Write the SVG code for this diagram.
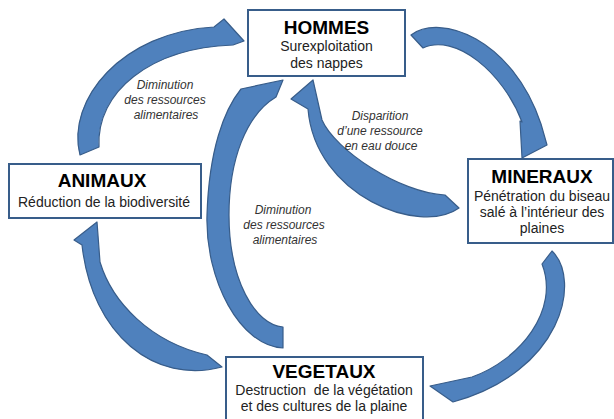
<svg xmlns="http://www.w3.org/2000/svg" width="614" height="419" viewBox="0 0 614 419">
<style>
.arrow{fill:#4F81BD;stroke:#385D8A;stroke-width:1.2;stroke-linejoin:round}
.box{fill:#FFFFFF;stroke:#385D8A;stroke-width:2}
.title{font-family:"Liberation Sans",Arial,sans-serif;font-weight:bold;font-size:19px;fill:#000;text-anchor:middle}
.sub{font-family:"Liberation Sans",Arial,sans-serif;font-size:14px;fill:#222;text-anchor:middle}
.lbl{font-family:"Liberation Sans",Arial,sans-serif;font-style:italic;font-size:12px;fill:#333;text-anchor:middle}
</style>
<rect width="614" height="419" fill="#FFFFFF"/>
<g id="connectors">
  <path id="arrow-hommes-mineraux" class="arrow" d="M411,35 C440,13 512,38 541,124 L547,145 L522,158 L520,121 L522,122 C503,72 455,33 423,48 Z"/>
  <path id="arrow-mineraux-hommes" class="arrow" d="M459,208 C420,236 315,196 308,109 L291,99 L313,80 L322,120 C335,150 400,193 445,195 Z"/>
  <path id="arrow-animaux-hommes" class="arrow" d="M80,155 C66,100 122,32 214,27 L224,19 L244,41 L233,45 C150,48 96,92 99,147 Z"/>
  <path id="arrow-vegetaux-hommes" class="arrow" d="M283,348 C240,346 205,280 207,215 C209,150 224,110 241,89 L283,80 L276,97 C246,115 229,160 229,215 C229,280 255,325 283,327 Z"/>
  <path id="arrow-vegetaux-animaux" class="arrow" d="M222,367 C155,385 92,335 82,245 L74,240 L97,222 L100,262 C112,302 150,342 207,355 Z"/>
  <path id="arrow-mineraux-vegetaux" class="arrow" d="M552,251 C582,280 562,372 453,402 L430,386 L472,377 C520,360 560,310 542,264 Z"/>
  <g id="connector-labels">
    <text class="lbl" x="165" y="89">Diminution</text>
    <text class="lbl" x="165" y="104">des ressources</text>
    <text class="lbl" x="166" y="119">alimentaires</text>
    <text class="lbl" x="380" y="120">Disparition</text>
    <text class="lbl" x="380" y="135">d’une ressource</text>
    <text class="lbl" x="381" y="150">en eau douce</text>
    <text class="lbl" x="283" y="214">Diminution</text>
    <text class="lbl" x="284" y="229">des ressources</text>
    <text class="lbl" x="285" y="244">alimentaires</text>
  </g>
</g>
<g id="hommes">
  <rect class="box" x="248" y="10" width="157" height="66"/>
  <text class="title" x="326.5" y="34">HOMMES</text>
  <text class="sub" x="326.5" y="51">Surexploitation</text>
  <text class="sub" x="326.5" y="67.5">des nappes</text>
</g>
<g id="mineraux">
  <rect class="box" x="468" y="159" width="145" height="84"/>
  <text class="title" x="542" y="183">MINERAUX</text>
  <text class="sub" x="542" y="201">Pénétration du biseau</text>
  <text class="sub" x="542" y="217">salé à l’intérieur des</text>
  <text class="sub" x="542" y="233">plaines</text>
</g>
<g id="animaux">
  <rect class="box" x="9" y="164" width="192" height="54"/>
  <text class="title" x="102" y="187">ANIMAUX</text>
  <text class="sub" x="104" y="207">Réduction de la biodiversité</text>
</g>
<g id="vegetaux">
  <rect class="box" x="226" y="357" width="197" height="66"/>
  <text class="title" x="324" y="378">VEGETAUX</text>
  <text class="sub" x="324" y="395" xml:space="preserve">Destruction  de la végétation</text>
  <text class="sub" x="324" y="411">et des cultures de la plaine</text>
</g>
</svg>
